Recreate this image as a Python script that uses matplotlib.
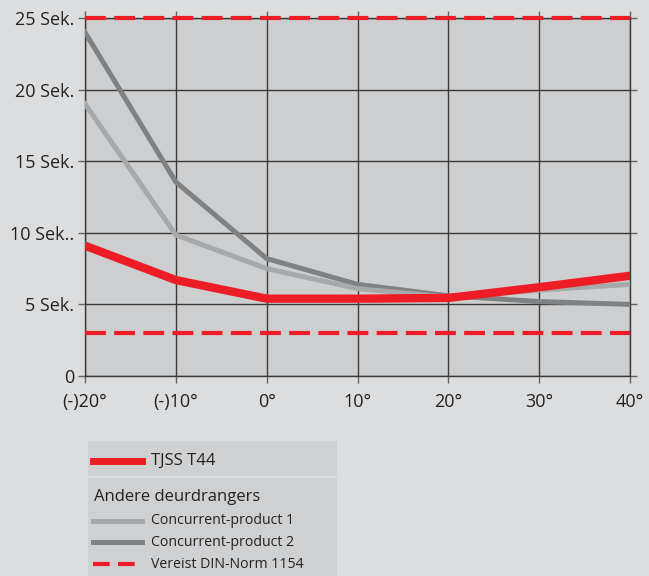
import matplotlib
matplotlib.use("Agg")
import matplotlib.pyplot as plt
from matplotlib.lines import Line2D
from matplotlib.patches import Rectangle

plt.rcParams["font.family"] = ["Open Sans", "DejaVu Sans"]

temps = [-20, -10, 0, 10, 20, 30, 40]
temp_labels = ["(-)20°", "(-)10°", "0°", "10°", "20°", "30°", "40°"]

tjss_t44 = [9.1, 6.7, 5.4, 5.4, 5.45, 6.2, 7.0]
product_1 = [19.0, 9.85, 7.5, 6.1, 5.5, 6.0, 6.4]
product_2 = [24.0, 13.55, 8.2, 6.4, 5.6, 5.2, 5.0]
din_norm = [3, 25]

y_ticks = [0, 5, 10, 15, 20, 25]
y_labels = ["0", "5 Sek.", "10 Sek..", "15 Sek.", "20 Sek.", "25 Sek."]

RED = "#ee1c25"
LIGHT = "#a7a8aa"
DARK = "#808183"
BG = "#dcdddf"
PLOT_BG = "#cdced0"
GRID = "#3a3a3a"
TXT = "#222222"

fig = plt.figure(figsize=(6.49, 5.76), dpi=100, facecolor=BG)
ax = fig.add_axes([85 / 649, 1 - 376 / 576, 545 / 649, 358 / 576])
ax.set_facecolor(PLOT_BG)

ax.set_xlim(-20, 40)
ax.set_ylim(0, 25)
ax.set_xticks(temps)
ax.set_xticklabels(temp_labels, fontsize=13, color=TXT)
ax.set_yticks(y_ticks)
ax.set_yticklabels(y_labels, fontsize=13, color=TXT)
ax.grid(True, color=GRID, linewidth=1.0, zorder=1)
ax.set_axisbelow(True)
ax.tick_params(direction="out", length=5, width=1.0, color="#666666",
               top=True, right=True, labeltop=False, labelright=False, pad=3)
ax.tick_params(axis="x", pad=7)
for s in ax.spines.values():
    s.set_color(GRID)
    s.set_linewidth(1.0)

ax.plot(temps, product_2, color=DARK, linewidth=3.6, zorder=3, solid_joinstyle="miter")
ax.plot(temps, product_1, color=LIGHT, linewidth=3.6, zorder=4, solid_joinstyle="miter")
ax.plot(temps, tjss_t44, color=RED, linewidth=6.0, zorder=5, solid_joinstyle="miter")
for v in din_norm:
    ax.axhline(v, color=RED, linewidth=3.0, linestyle=(0, (5, 2)), zorder=6, clip_on=False)

# legend boxes
W, H = 649, 576
def fx(px):
    return px / W
def fy(py):
    return 1 - py / H

box_col = "#cfd0d2"
fig.patches.append(Rectangle((fx(88), fy(476)), fx(337) - fx(88), fy(441) - fy(476),
                             transform=fig.transFigure, facecolor=box_col, edgecolor="none"))
fig.patches.append(Rectangle((fx(88), fy(576)), fx(337) - fx(88), fy(478) - fy(576),
                             transform=fig.transFigure, facecolor=box_col, edgecolor="none"))

entries = [
    (461, RED, 5.0, "-", "TJSS T44"),
    (521, LIGHT, 3.6, "-", "Concurrent-product 1"),
    (542, DARK, 3.6, "-", "Concurrent-product 2"),
    (564, RED, 3.0, (0, (4, 2)), "Vereist DIN-Norm 1154"),
]
for py, col, lw, ls, label in entries:
    fig.lines.append(Line2D([fx(93), fx(142)], [fy(py), fy(py)], transform=fig.transFigure,
                            color=col, linewidth=lw, linestyle=ls))
    fs = 12 if label == "TJSS T44" else 10.2
    fig.text(fx(151), fy(py), label, fontsize=fs, color=TXT, va="center", ha="left")

fig.text(fx(94), fy(497), "Andere deurdrangers", fontsize=12, color=TXT, va="center", ha="left")

fig.savefig("out.png", dpi=100, facecolor=BG)
